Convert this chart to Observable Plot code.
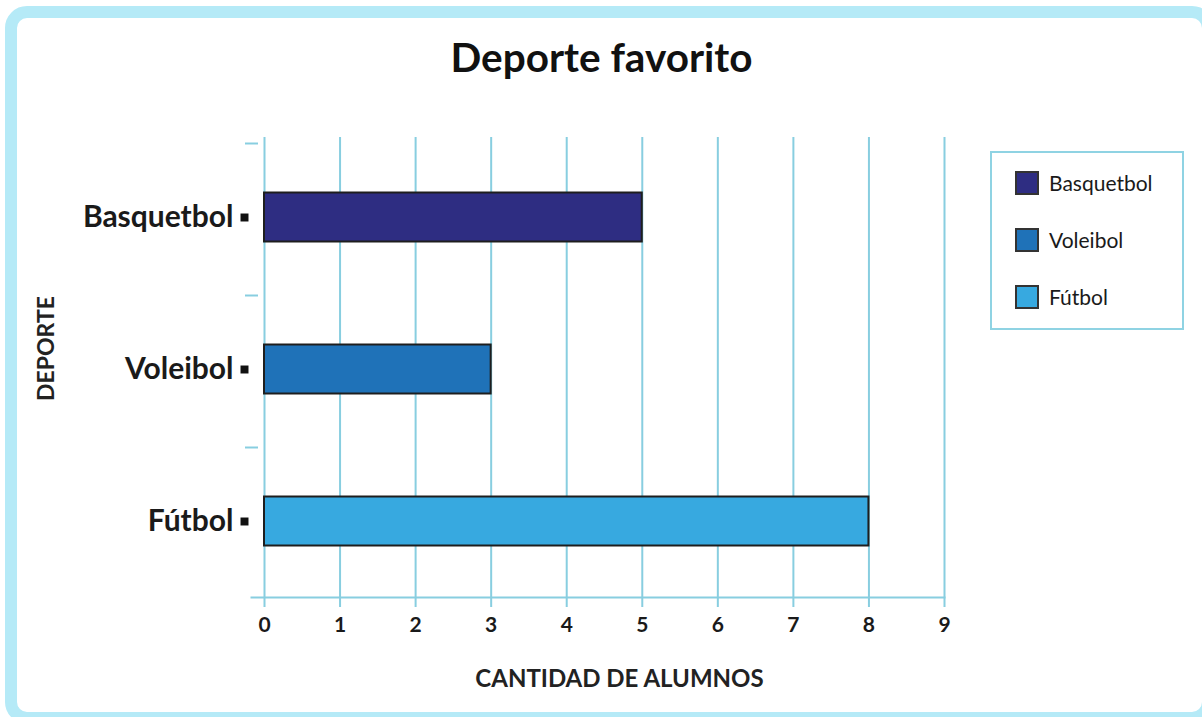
<!DOCTYPE html>
<html>
<head>
<meta charset="utf-8">
<script src="https://cdn.jsdelivr.net/npm/d3@7"></script>
<script src="https://cdn.jsdelivr.net/npm/@observablehq/plot@0.6"></script>
<style>
  html, body { margin: 0; padding: 0; background: #fff; width: 1202px; height: 717px; overflow: hidden; }
  #frame { position: absolute; left: 5px; top: 6px; width: 1209px; height: 718px; box-sizing: border-box;
           border: 12px solid #b5eaf7; border-radius: 22px; }
  #chart { position: absolute; left: 0; top: 0; }
  #legend { position: absolute; left: 990px; top: 151px; width: 194px; height: 179px; box-sizing: border-box;
            border: 2px solid #8fd3e3; font-family: Lato, sans-serif; font-size: 21px; color: #1a1a1a; }
  .item { position: absolute; left: 23px; display: flex; align-items: center; }
  .sw { width: 20px; height: 20px; border: 2px solid #333; margin-right: 10px; }
</style>
</head>
<body>
<div id="frame"></div>
<div id="chart"></div>
<div id="legend"></div>
<script>
const sports = ["Basquetbol", "Voleibol", "Fútbol"];
const counts = [5, 3, 8];
const colors = ["#2e2d82", "#1f72b8", "#37a9e0"];
const xTicks = [0, 1, 2, 3, 4, 5, 6, 7, 8, 9];
const title = "Deporte favorito";
const xLabel = "CANTIDAD DE ALUMNOS";
const yLabel = "DEPORTE";

const data = sports.map((s, i) => ({sport: s, value: counts[i]}));
const gridColor = "#88cee0";
const font = "Lato, sans-serif";

const chart = Plot.plot({
  width: 1202,
  height: 717,
  marginLeft: 264,
  marginRight: 258,
  marginTop: 141,
  marginBottom: 120,
  style: {fontFamily: font, background: "transparent", color: "#1a1a1a"},
  x: {domain: [0, 9]},
  y: {domain: sports, padding: 0},
  color: {domain: sports, range: colors},
  marks: [
    Plot.ruleX(xTicks, {x: d => d, stroke: gridColor, strokeWidth: 2, insetTop: -4, insetBottom: -10}),
    Plot.frame({anchor: "bottom", stroke: gridColor, strokeWidth: 2, insetLeft: -13}),
    Plot.axisY({tickSize: 13, tickPadding: 0, dx: -6, dy: -74, tickFormat: () => "", stroke: gridColor, strokeWidth: 2, label: null}),
    Plot.axisY({tickSize: 0, tickPadding: 31, fontSize: 30, fontWeight: "bold", label: null}),
    Plot.dot(sports, {y: d => d, frameAnchor: "left", dx: -20, symbol: "square", r: 4.5, fill: "#111", stroke: "none"}),
    Plot.axisX({ticks: xTicks, tickSize: 0, tickPadding: 20, fontSize: 21, fontWeight: "bold", tickFormat: d => String(d), label: null}),
    Plot.barX(data, {x: "value", y: "sport", fill: "sport", stroke: "#1e1e1e", strokeWidth: 2, insetTop: 51.5, insetBottom: 51.5}),
    Plot.text([xLabel], {text: d => d, frameAnchor: "bottom", lineAnchor: "middle", dy: 82, dx: 15, fontSize: 24, fontWeight: "bold", fill: "#222"}),
    Plot.text([yLabel], {text: d => d, frameAnchor: "left", textAnchor: "middle", lineAnchor: "middle", rotate: -90, dx: -218, dy: -21, fontSize: 23, fontWeight: "bold", fill: "#222"}),
    Plot.text([title], {text: d => d, frameAnchor: "top", lineAnchor: "middle", dy: -82, dx: -3, fontSize: 40.5, fontWeight: "bold", fill: "#111"})
  ]
});
document.getElementById("chart").appendChild(chart);

const legend = document.getElementById("legend");
sports.forEach((s, i) => {
  const item = document.createElement("div");
  item.className = "item";
  item.style.top = (17 + i * 57) + "px";
  const sw = document.createElement("div");
  sw.className = "sw";
  sw.style.background = colors[i];
  const lab = document.createElement("span");
  lab.textContent = s;
  item.appendChild(sw);
  item.appendChild(lab);
  legend.appendChild(item);
});
</script>
</body>
</html>
